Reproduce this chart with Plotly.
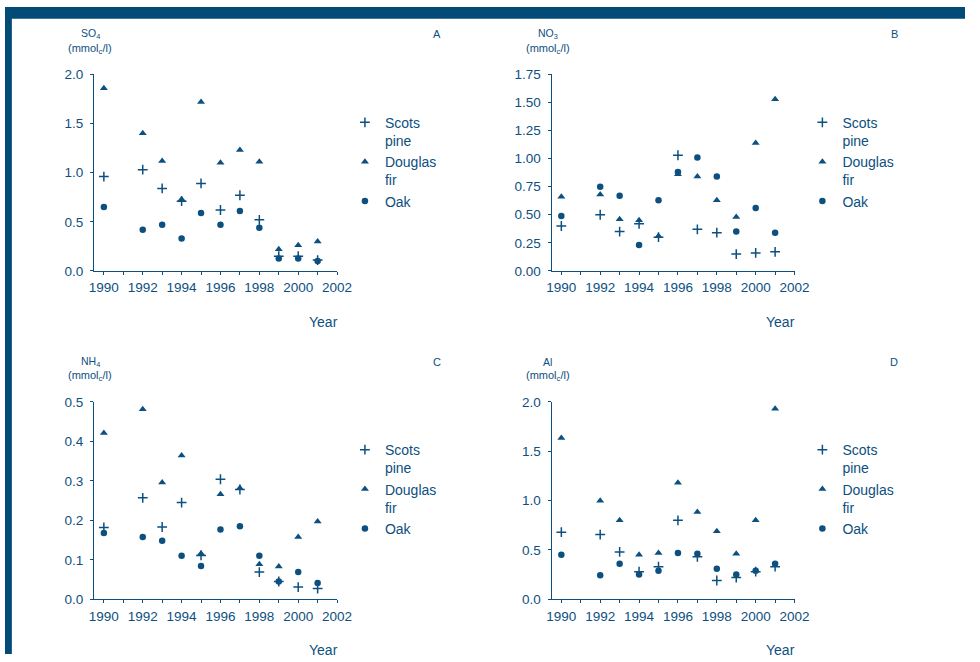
import plotly.graph_objects as go

# Sampling years (no measurement in 1991)
years = [1990, 1992, 1993, 1994, 1995, 1996, 1997, 1998, 1999, 2000, 2001]

# SO4 (mmolc/l)
so4_scots = [0.96, 1.03, 0.84, 0.71, 0.89, 0.62, 0.77, 0.52, 0.15, 0.15, 0.11]
so4_douglas = [1.86, 1.40, 1.12, 0.73, 1.72, 1.10, 1.23, 1.11, 0.22, 0.26, 0.30]
so4_oak = [0.65, 0.42, 0.47, 0.33, 0.59, 0.47, 0.61, 0.44, 0.126, 0.126, 0.10]

# NO3 (mmolc/l)
no3_scots = [0.40, 0.50, 0.35, 0.42, 0.30, 1.03, 0.37, 0.34, 0.15, 0.16, 0.17]
no3_douglas = [0.66, 0.68, 0.46, 0.45, 0.31, 0.86, 0.84, 0.63, 0.48, 1.14, 1.53]
no3_oak = [0.49, 0.75, 0.67, 0.23, 0.63, 0.88, 1.01, 0.84, 0.35, 0.56, 0.34]

# NH4 (mmolc/l)
nh4_scots = [0.182, 0.257, 0.183, 0.245, 0.111, 0.304, 0.278, 0.069, 0.045, 0.031, 0.027]
nh4_douglas = [0.421, 0.481, 0.296, 0.364, 0.116, 0.266, 0.282, 0.089, 0.083, 0.158, 0.197]
nh4_oak = [0.168, 0.158, 0.148, 0.110, 0.084, 0.177, 0.185, 0.110, 0.045, 0.069, 0.041]

# Al (mmolc/l)
al_scots = [0.68, 0.655, 0.48, 0.28, 0.33, 0.80, 0.43, 0.19, 0.22, 0.28, 0.33]
al_douglas = [1.635, 0.997, 0.80, 0.45, 0.47, 1.18, 0.885, 0.69, 0.46, 0.80, 1.93]
al_oak = [0.45, 0.243, 0.36, 0.25, 0.29, 0.47, 0.46, 0.31, 0.25, 0.29, 0.36]

species = ["Scots<br>pine", "Douglas<br>fir", "Oak"]
x_ticks = [1990, 1992, 1994, 1996, 1998, 2000, 2002]

INK = "#0d5080"
FRAME = "#024b77"
FONT = "Liberation Sans, Arial, sans-serif"
W, H = 980, 662


def px_x(p):
    return p / W


def px_y(p):
    return 1 - p / H


panels = [
    # name, ion label, y-range, dtick, format, data, x-domain px, y-domain px
    ("A", "SO<sub>4</sub>", 2.0, 0.5, ".1f", (so4_scots, so4_douglas, so4_oak), (91, 339), (69, 270)),
    ("B", "NO<sub>3</sub>", 1.75, 0.25, ".2f", (no3_scots, no3_douglas, no3_oak), (558, 806), (69, 270)),
    ("C", "NH<sub>4</sub>", 0.5, 0.1, ".1f", (nh4_scots, nh4_douglas, nh4_oak), (91, 339), (404, 606)),
    ("D", "Al", 2.0, 0.5, ".1f", (al_scots, al_douglas, al_oak), (558, 806), (404, 606)),
]

marker_styles = [
    dict(symbol="cross-thin", size=7, line=dict(color=INK, width=1.5), color=INK),
    dict(symbol="triangle-up", size=7, color=INK, line=dict(width=0)),
    dict(symbol="circle", size=6.5, color=INK, line=dict(width=0)),
]

fig = go.Figure()
layout = dict(
    width=W, height=H,
    margin=dict(l=0, r=0, t=0, b=0),
    paper_bgcolor="white", plot_bgcolor="white",
    font=dict(family=FONT, color=INK, size=13),
    annotations=[], shapes=[],
)

for i, (name, ion, ymax, dy, fmt, series, (x0, x1), (y0, y1)) in enumerate(panels):
    k = i + 1
    xa = "x" if k == 1 else f"x{k}"
    ya = "y" if k == 1 else f"y{k}"
    leg = "legend" if k == 1 else f"legend{k}"

    for j, (vals, label) in enumerate(zip(series, species)):
        fig.add_trace(go.Scatter(
            x=years, y=vals, mode="markers", name=label,
            marker=marker_styles[j], xaxis=xa, yaxis=ya,
            legend=leg, cliponaxis=False,
        ))

    layout["xaxis" if k == 1 else f"xaxis{k}"] = dict(
        domain=[px_x(x0), px_x(x1)], anchor=ya,
        range=[1989.5, 2002], tickvals=x_ticks,
        ticks="outside", ticklen=3, tickwidth=1, tickcolor=INK,
        minor=dict(ticks="outside", dtick=1, tick0=1990, ticklen=3, tickwidth=1, tickcolor=INK),
        showline=True, linecolor=INK, linewidth=1.2,
        showgrid=False, zeroline=False,
        tickfont=dict(size=13.5, color=INK), ticklabelstandoff=1,
    )
    layout["yaxis" if k == 1 else f"yaxis{k}"] = dict(
        domain=[px_y(y1), px_y(y0)], anchor=xa,
        range=[0, ymax], dtick=dy, tick0=0, tickformat=fmt,
        ticks="outside", ticklen=3, tickwidth=1, tickcolor=INK,
        showline=True, linecolor=INK, linewidth=1.2,
        showgrid=False, zeroline=False,
        tickfont=dict(size=13.5, color=INK), ticklabelstandoff=4,
    )

    # legend to the right of each panel, symbols level with the first text line
    layout[leg] = dict(
        x=px_x(x1 + 8), y=px_y(y0 + 33), xanchor="left", yanchor="top",
        bgcolor="rgba(0,0,0,0)", borderwidth=0, valign="top",
        font=dict(size=14, color=INK, family=FONT),
        tracegroupgap=0,
    )

    cx = x0 - 4
    layout["annotations"] += [
        dict(text=ion, x=px_x(cx), y=px_y(y0 - 41), xref="paper", yref="paper",
             showarrow=False, font=dict(size=10.5, color=INK), xanchor="center", yanchor="middle"),
        dict(text="(mmol<sub>c</sub>/l)", x=px_x(cx), y=px_y(y0 - 26), xref="paper", yref="paper",
             showarrow=False, font=dict(size=11, color=INK), xanchor="center", yanchor="middle"),
        dict(text=name, x=px_x(x1 + 102), y=px_y(y0 - 41), xref="paper", yref="paper",
             showarrow=False, font=dict(size=11, color=INK), xanchor="center", yanchor="middle"),
        dict(text="Year", x=px_x(x1 - 14), y=px_y(y1 + 52), xref="paper", yref="paper",
             showarrow=False, font=dict(size=14, color=INK), xanchor="center", yanchor="middle"),
    ]

# dark frame along the top and left edges
layout["shapes"] += [
    dict(type="rect", xref="paper", yref="paper", x0=0, x1=1, y0=px_y(12), y1=1,
         fillcolor=FRAME, line=dict(width=0), layer="below"),
    dict(type="rect", xref="paper", yref="paper", x0=0, x1=px_x(7), y0=0, y1=1,
         fillcolor=FRAME, line=dict(width=0), layer="below"),
]

fig.update_layout(**layout)
fig.write_html("out.html")
